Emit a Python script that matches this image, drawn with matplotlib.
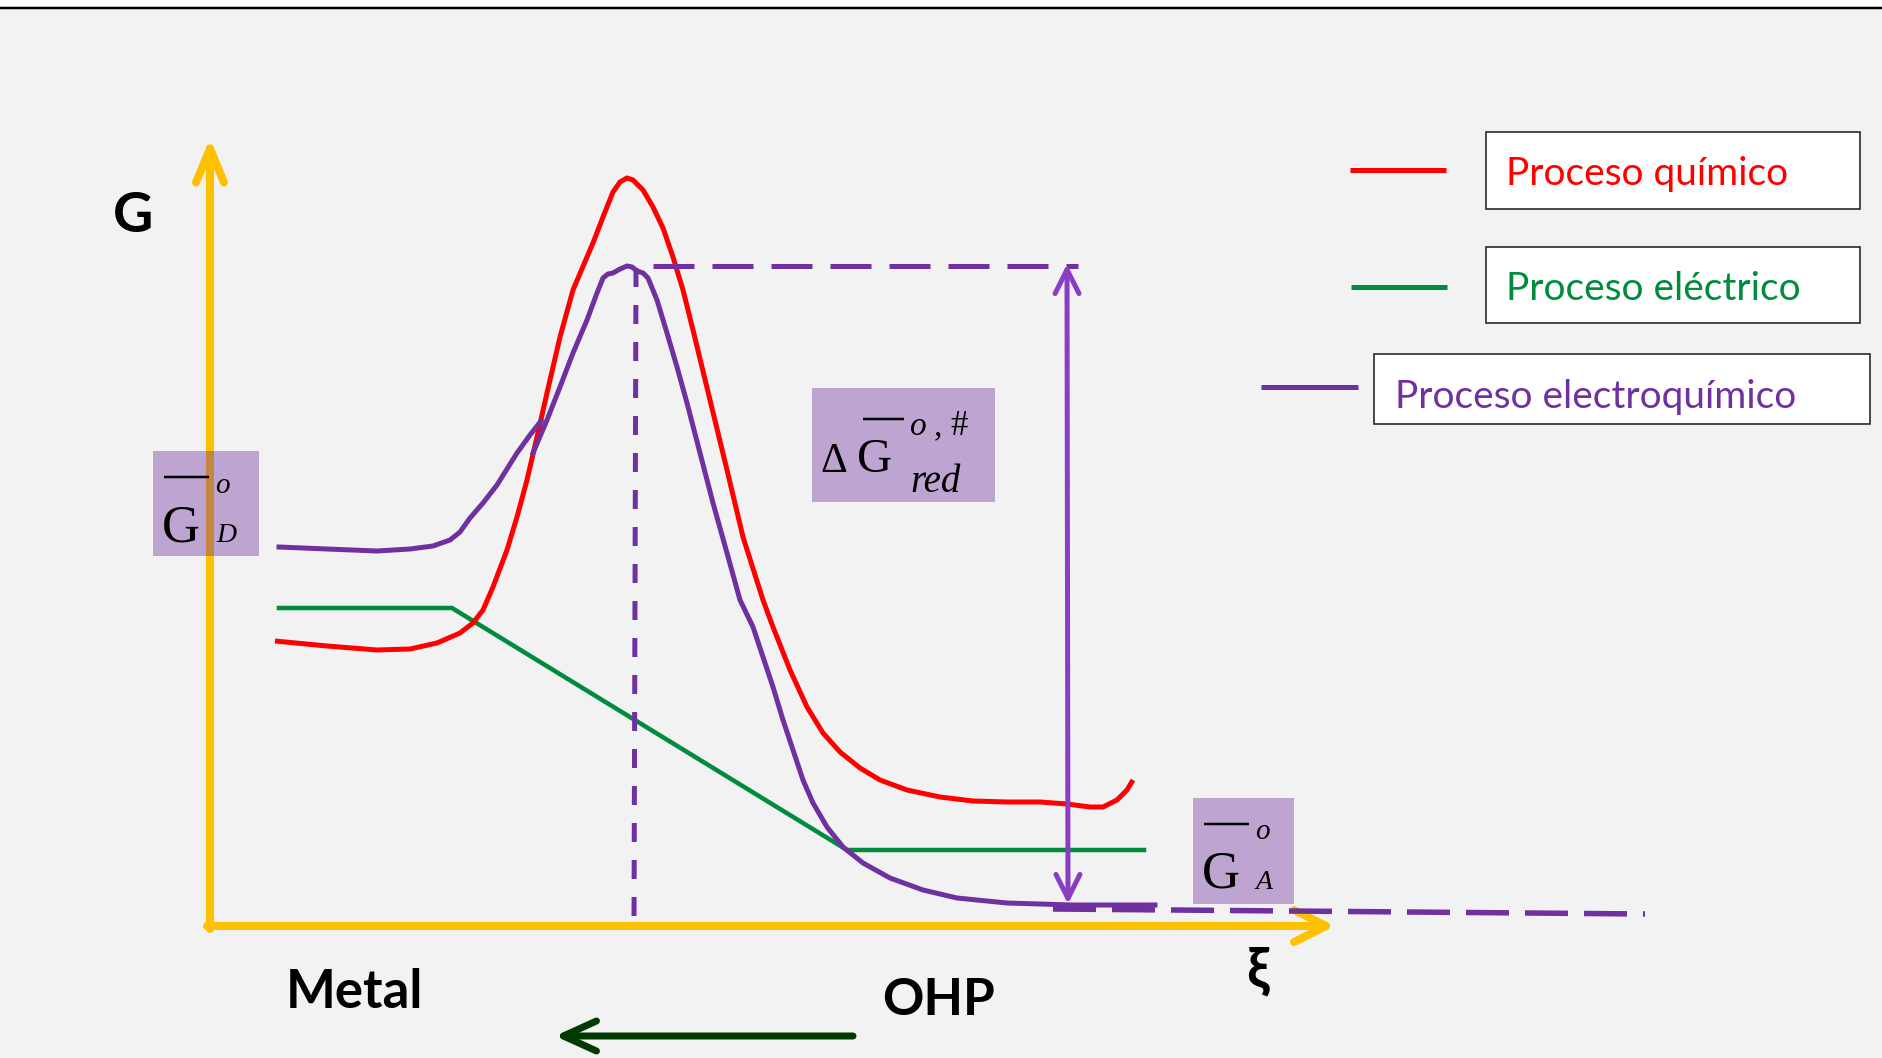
import matplotlib
matplotlib.use('Agg')
import matplotlib.pyplot as plt
from matplotlib.patches import Rectangle

plt.rcParams['lines.scale_dashes'] = False
PX = 0.72  # pixels -> points at dpi 100

# curve points, in picture pixels (x right, G up = y down)
red_x = [275, 327, 377, 410, 437, 460, 473, 483, 493, 507, 517, 527, 537, 547, 560, 573, 587, 593, 603, 613,
         620, 627, 633, 643, 653, 663, 673, 683, 693, 710, 727, 743, 763, 773, 790, 807, 823, 840, 860, 880,
         907, 940, 973, 1007, 1040, 1067, 1090, 1103, 1117, 1127, 1133]
red_y = [641, 646, 650, 649, 643, 633, 623, 610, 587, 550, 517, 480, 437, 393, 337, 290, 257, 243, 217, 192,
         182, 178, 180, 190, 207, 228, 257, 290, 330, 400, 470, 537, 600, 627, 670, 707, 733, 752, 768, 780,
         790, 797, 801, 802, 802, 804, 807, 807, 800, 790, 780]

purple_a_x = [279, 327, 377, 410, 433, 450, 460, 470, 483, 497, 517, 530, 541]
purple_a_y = [547, 549, 551, 549, 546, 540, 532, 518, 503, 485, 453, 435, 421]
purple_b_x = [533, 547, 560, 573, 587, 597, 603, 608, 613, 620, 627, 632, 637, 643, 648, 657, 667, 677, 687,
              700, 713, 727, 740, 753, 763, 773, 783, 793, 803, 813, 827, 843, 863, 890, 923, 957, 1007, 1073,
              1155]
purple_b_y = [453, 420, 387, 353, 320, 293, 278, 274, 273, 269, 266, 267, 271, 273, 278, 300, 333, 367, 403,
              453, 503, 553, 600, 627, 657, 687, 720, 750, 780, 803, 827, 847, 863, 878, 890, 898, 903, 905,
              905]

green_x = [279, 452, 847, 1144]
green_y = [608, 608, 850, 850]

# reference lines
peak_x = [636, 634]
peak_y = [268, 925]
top_x = [653, 1078]
top_y = [266, 266]
base_x = [1053, 1645]
base_y = [909, 914]

legend_labels = ['Proceso químico', 'Proceso eléctrico', 'Proceso electroquímico']
legend_colors = ['#FF0000', '#008C3C', '#7030A0']
legend_line_x = [(1350, 1446), (1351, 1447), (1261, 1358)]
legend_line_y = [170, 287, 387]
legend_box = [(1486, 132, 374, 77), (1486, 247, 374, 76), (1374, 354, 496, 70)]
legend_text_xy = [(1506, 185), (1506, 300), (1395, 408)]

YEL = '#FFC000'
PUR = '#7030A0'
BOXC = '#7030A0'

fig = plt.figure(figsize=(18.83, 10.58), dpi=100, facecolor='#F2F2F2')
ax = fig.add_axes([0, 0, 1, 1])
ax.set_xlim(0, 1883)
ax.set_ylim(1058, 0)
ax.axis('off')
ax.set_facecolor('#F2F2F2')

# slide top border
ax.axhspan(0, 7, color='white', zorder=0)
ax.plot([0, 1883], [8, 8], color='black', lw=2.5 * PX, zorder=1)

# yellow axes
arrow_kw = dict(color=YEL, lw=8 * PX, capstyle='round', joinstyle='round', shrinkA=0, shrinkB=0,
                mutation_scale=1)
ax.annotate('', xy=(210, 138), xytext=(210, 929),
            arrowprops=dict(arrowstyle='->, head_length=%f, head_width=%f' % (34 * PX, 14 * PX), **arrow_kw),
            zorder=2)
ax.annotate('', xy=(1335, 926), xytext=(207, 926),
            arrowprops=dict(arrowstyle='->, head_length=%f, head_width=%f' % (32 * PX, 16 * PX), **arrow_kw),
            zorder=2)

# curves
ax.plot(green_x, green_y, color='#008C3C', lw=4.5 * PX, solid_joinstyle='round', zorder=3)
ax.plot(red_x, red_y, color='#FF0000', lw=5 * PX, solid_joinstyle='round', solid_capstyle='butt', zorder=4)
ax.plot(purple_a_x, purple_a_y, color=PUR, lw=5 * PX, solid_joinstyle='round', zorder=5)
ax.plot(purple_b_x, purple_b_y, color=PUR, lw=5 * PX, solid_joinstyle='round', zorder=5)

# dashed guides
ax.plot(peak_x, peak_y, color=PUR, lw=5 * PX, dashes=(19 * PX, 18 * PX), dash_capstyle='butt', zorder=4)
ax.plot(top_x, top_y, color=PUR, lw=5 * PX, dashes=(41 * PX, 18 * PX), dash_capstyle='butt', zorder=4)
ax.plot(base_x, base_y, color=PUR, lw=5.5 * PX, dashes=(43 * PX, 16 * PX), dash_capstyle='butt', zorder=4)

# double arrow for the activation energy
ax.annotate('', xy=(1067, 264), xytext=(1068, 904),
            arrowprops=dict(arrowstyle='<->, head_length=%f, head_width=%f' % (24 * PX, 12 * PX),
                            color='#8A3DC2', lw=5 * PX, shrinkA=0, shrinkB=0, mutation_scale=1,
                            capstyle='round', joinstyle='round'),
            zorder=6)

# dark green arrow under the axis
ax.annotate('', xy=(555, 1036), xytext=(853, 1036),
            arrowprops=dict(arrowstyle='->, head_length=%f, head_width=%f' % (33 * PX, 15 * PX),
                            color='#003A00', lw=7 * PX, shrinkA=0, shrinkB=0, mutation_scale=1,
                            capstyle='round', joinstyle='round'),
            zorder=6)

# axis words
bold = dict(family=['Lato', 'DejaVu Sans'], fontweight='bold', color='black')
ax.text(133, 232, 'G', fontsize=40, ha='center', va='baseline', **bold)
ax.text(354, 1008, 'Metal', fontsize=38, ha='center', va='baseline', **bold)
ax.text(939, 1015, 'OHP', fontsize=37, ha='center', va='baseline', **bold)
ax.text(1257, 987, 'ξ', fontsize=40, ha='center', va='baseline', **bold)

# purple label boxes with serif formulas
serif = ['Liberation Serif', 'DejaVu Serif']


def label_box(x0, y0, w, h):
    ax.add_patch(Rectangle((x0, y0), w, h, facecolor=BOXC, edgecolor='none', alpha=0.4, zorder=7))


def bar(x0, x1, y):
    ax.plot([x0, x1], [y, y], color='black', lw=2.5 * PX, solid_capstyle='butt', zorder=8)


def tx(x, y, s, size, italic=False):
    ax.text(x, y, s, fontsize=size, family=serif, style='italic' if italic else 'normal',
            ha='left', va='baseline', color='black', zorder=8)


# G_D
label_box(153, 451, 106, 105)
bar(164, 209, 477)
tx(215, 493, 'o', 21, True)
tx(162, 542, 'G', 38)
tx(216, 542, 'D', 20, True)

# Delta G red
label_box(812, 388, 183, 114)
tx(820, 472, 'Δ', 30)
tx(857, 472, 'G', 35)
bar(863, 904, 419)
tx(910, 435, 'o', 24, True)
tx(934, 435, ',', 24)
tx(950, 435, '#', 25)
tx(910, 492, 'red', 28, True)

# G_A
label_box(1193, 798, 101, 106)
bar(1204, 1249, 824)
tx(1255, 839, 'o', 21, True)
tx(1202, 887, 'G', 38)
tx(1256, 889, 'A', 20, True)

# legend drawn as in the slide
for lab, col, lx, ly, bx, txy in zip(legend_labels, legend_colors, legend_line_x, legend_line_y,
                                     legend_box, legend_text_xy):
    ax.plot(lx, [ly, ly], color=col, lw=5 * PX, solid_capstyle='butt', zorder=3)
    ax.add_patch(Rectangle((bx[0], bx[1]), bx[2], bx[3], facecolor='white', edgecolor='#222222',
                           lw=1.6 * PX, zorder=3))
    ax.text(txy[0], txy[1], lab, fontsize=28, family=['Lato', 'DejaVu Sans'], color=col,
            ha='left', va='baseline', zorder=4)

fig.savefig('out.png', dpi=100, facecolor=fig.get_facecolor())
